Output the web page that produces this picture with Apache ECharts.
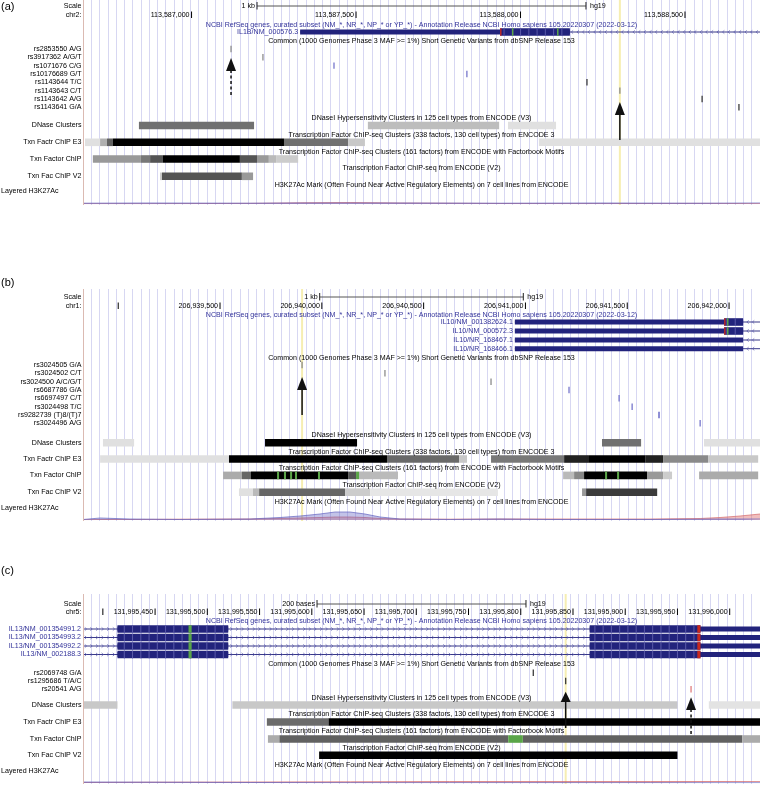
<!DOCTYPE html>
<html>
<head>
<meta charset="utf-8">
<script src="https://cdn.jsdelivr.net/npm/echarts@6/dist/echarts.min.js"></script>
<style>
  html, body { margin: 0; padding: 0; background: #fff; }
  #main { width: 760px; height: 785px; }
</style>
</head>
<body>
<div id="main"></div>
<script>
// ---------- panel (a) IL1B, chr2 ----------
var rangeA = [113586670, 113588728];
var ticksA = [113587000, 113587500, 113588000, 113588500];
var scaleA = 1000;
var genesA = [
    { name: 'IL1B/NM_000576.3', strand: '-', tx: [113587330, 113594356], exons: [[113587330, 113588150]], cds: [113587938, 113593900], mCodons: [113587974, 113588111] }
];
var snpNamesA = ['rs2853550 A/G', 'rs3917362 A/G/T', 'rs1071676 C/G', 'rs10176689 G/T', 'rs1143644 T/C', 'rs1143643 C/T', 'rs1143642 A/G', 'rs1143641 G/A'];
var snpPosA = [113587120, 113587217, 113587433, 113587837, 113588202, 113588302, 113588552, 113588664];
var snpLenA = [1, 1, 1, 1, 1, 1, 1, 1];
var snpClassA = ['other', 'other', 'utr', 'utr', 'intron', 'other', 'intron', 'intron'];
// [start, end, score]
var dnaseA = [[113586840, 113587190, 560], [113587536, 113587935, 260], [113587962, 113588108, 120]];
var e3A = [[113586676, 113586722, 120], [113586722, 113586743, 310], [113586743, 113586761, 620], [113586761, 113587281, 1000],
    [113587281, 113587476, 560], [113587476, 113587527, 215], [113588056, 113588760, 120]];
var fbA = [[113586700, 113586846, 400], [113586846, 113586874, 530], [113586874, 113586913, 670], [113586913, 113587147, 1000],
    [113587147, 113587199, 670], [113587199, 113587235, 400], [113587235, 113587257, 270], [113587257, 113587324, 200]];
var motifsA = [];
var v2A = [[113586904, 113586910, 200], [113586910, 113587153, 670], [113587153, 113587187, 400]];
var highlightA = 113588302;
var arrowsA = [113587120, 113588302];
var h3PosA = [113586670, 113586874, 113587178, 113587330, 113587482, 113587634, 113587938, 113588242, 113588546, 113588728];
var h3BlueA = [0.8, 1, 0.8, 1, 1, 1, 0.8, 1, 0.8, 1];
var h3RedA = [0.3, 0.3, 0.6, 1.2, 1.5, 1, 0.5, 0.4, 0.6, 0.4];

// ---------- panel (b) IL10, chr1 ----------
var rangeB = [206938827, 206942152];
var ticksB = [206939000, 206939500, 206940000, 206940500, 206941000, 206941500, 206942000];
var scaleB = 1000;
var genesB = [
    { name: 'IL10/NM_001382624.1', strand: '-', tx: [206940948, 206945839], exons: [[206940948, 206942069]], cds: [206941976, 206945700], mCodons: [206941990] },
    { name: 'IL10/NM_000572.3', strand: '-', tx: [206940948, 206945839], exons: [[206940948, 206942069]], cds: [206941976, 206945700], mCodons: [206941990] },
    { name: 'IL10/NR_168467.1', strand: '-', tx: [206940948, 206945839], exons: [[206940948, 206942069]], cds: null, mCodons: [] },
    { name: 'IL10/NR_168466.1', strand: '-', tx: [206940948, 206945839], exons: [[206940948, 206942069]], cds: null, mCodons: [] }
];
var snpNamesB = ['rs3024505 G/A', 'rs3024502 C/T', 'rs3024500 A/C/G/T', 'rs6687786 G/A', 'rs6697497 C/T', 'rs3024498 T/C', 'rs9282739 (T)8/(T)7', 'rs3024496 A/G'];
var snpPosB = [206939903, 206940310, 206940831, 206941214, 206941460, 206941524, 206941656, 206941858];
var snpLenB = [1, 1, 1, 1, 1, 1, 8, 1];
var snpClassB = ['other', 'other', 'other', 'utr', 'utr', 'utr', 'utr', 'utr'];
var dnaseB = [[206938925, 206939078, 120], [206939721, 206940173, 1000], [206941376, 206941568, 560], [206941877, 206942200, 120]];
var e3B = [[206938911, 206939544, 120], [206939544, 206940320, 1000], [206940320, 206940674, 590], [206940674, 206940713, 215],
    [206940831, 206941190, 530], [206941190, 206941308, 870], [206941308, 206941588, 1000], [206941588, 206941676, 870],
    [206941676, 206941897, 460], [206941897, 206942143, 215]];
var fbB = [[206939515, 206939608, 330], [206939608, 206939652, 600], [206939652, 206940129, 1000], [206940129, 206940168, 670],
    [206940183, 206940374, 270], [206941185, 206941239, 270], [206941239, 206941288, 470], [206941288, 206941597, 1000],
    [206941597, 206941676, 400], [206941676, 206941720, 200], [206941853, 206942143, 330]];
var motifsB = [[206939780, 206939790], [206939814, 206939824], [206939844, 206939854], [206939868, 206939878],
    [206939981, 206939991], [206940168, 206940183], [206941391, 206941401], [206941450, 206941460]];
var v2B = [[206939593, 206939662, 120], [206939662, 206939692, 270], [206939692, 206940114, 600], [206940114, 206940237, 200],
    [206940237, 206940865, 100], [206941278, 206941298, 400], [206941298, 206941647, 770]];
var highlightB = 206939903;
var arrowsB = [206939903];
var h3PosB = [206938827, 206938911, 206939058, 206939303, 206939647, 206939795, 206939893, 206939991, 206940065, 206940138, 206940212,
    206940286, 206940384, 206940630, 206940875, 206941121, 206941367, 206941612, 206941858, 206941956, 206942054, 206942152];
var h3BlueB = [0.5, 2, 1, 0.5, 1, 2.5, 4, 6, 8, 8, 6, 3, 1, 0.5, 1, 0.5, 0.5, 0.5, 0.8, 1, 1, 1];
var h3RedB = [0.3, 0.5, 0.5, 0.8, 1, 1.5, 2, 2.5, 3, 3, 2.5, 1.5, 1, 0.8, 1, 1, 1, 1, 1.5, 2.5, 4, 6];

// ---------- panel (c) IL13, chr5 ----------
var rangeC = [131995381, 131996029];
var ticksC = [131995400, 131995450, 131995500, 131995550, 131995600, 131995650, 131995700, 131995750,
    131995800, 131995850, 131995900, 131995950, 131996000];
var scaleC = 200;
var il13Exons = [[131995414, 131995520], [131995866, 131996802]];
var genesC = [
    { name: 'IL13/NM_001354991.2', strand: '+', tx: [131993865, 131996802], exons: il13Exons, cds: [131993900, 131995972], mCodons: [131995482] },
    { name: 'IL13/NM_001354993.2', strand: '+', tx: [131993865, 131996802], exons: il13Exons, cds: [131993900, 131995972], mCodons: [131995482] },
    { name: 'IL13/NM_001354992.2', strand: '+', tx: [131993865, 131996802], exons: il13Exons, cds: [131993900, 131995972], mCodons: [131995482] },
    { name: 'IL13/NM_002188.3', strand: '+', tx: [131993865, 131996802], exons: il13Exons, cds: [131993900, 131995972], mCodons: [131995482] }
];
var snpNamesC = ['rs2069748 G/A', 'rs1295686 T/A/C', 'rs20541 A/G'];
var snpPosC = [131995812, 131995843, 131995963];
var snpLenC = [1, 1, 1];
var snpClassC = ['intron', 'intron', 'missense'];
var dnaseC = [[131995370, 131995414, 216], [131995524, 131995950, 216], [131995980, 131996040, 110]];
var e3C = [[131995557, 131995616, 580], [131995616, 131996040, 1000]];
var fbC = [[131995558, 131995569, 330], [131995569, 131995788, 620], [131995802, 131996012, 620], [131996012, 131996040, 330]];
var motifsC = [[131995788, 131995802]];
var v2C = [[131995607, 131995950, 1000]];
var highlightC = 131995843;
var arrowsC = [131995843, 131995963];
var h3PosC = [131995381, 131995445, 131995541, 131995637, 131995732, 131995828, 131995924, 131996029];
var h3BlueC = [1, 0.8, 0.5, 0.3, 0.3, 0.3, 0.3, 0.3];
var h3RedC = [0.5, 0.8, 1, 1.2, 1.5, 1.5, 1.5, 1.5];

// ---------- layout (pixels, relative to each panel top) ----------
var layA = { top: 0, height: 205, letter: ['(a)', 7], chrom: 'chr2:', scaleText: '1 kb',
    scale: 6, chr: 15, geneTitle: 25, genes: [32], common: 41,
    snps: [49, 57.3, 65.6, 74, 82.3, 90.6, 99, 107.3],
    dnaseT: 118, dnase: 125.5, e3T: 135, e3: 142.3, fbT: 151.7, fb: 159, v2T: 168.3, v2: 176.3, h3T: 185, h3L: 191,
    arrows: [{ tip: 58, base: 71, end: 96, dashed: true }, { tip: 102, base: 115, end: 140, dashed: false }] };
var layB = { top: 289, height: 232, letter: ['(b)', 283], chrom: 'chr1:', scaleText: '1 kb',
    scale: 8, chr: 17, geneTitle: 26, genes: [33, 42, 51, 59.7], common: 68.7,
    snps: [76, 84.3, 92.7, 101, 109.3, 117.7, 126, 134.3],
    dnaseT: 146, dnase: 153.7, e3T: 162.7, e3: 170, fbT: 178.7, fb: 186.4, v2T: 196, v2: 203.2, h3T: 212.7, h3L: 219,
    arrows: [{ tip: 88, base: 101, end: 126, dashed: false }] };
var layC = { top: 594, height: 190, letter: ['(c)', 571], chrom: 'chr5:', scaleText: '200 bases',
    scale: 10, chr: 18, geneTitle: 26.7, genes: [35, 43.5, 52, 60.5], common: 70,
    snps: [78.7, 87, 95.3],
    dnaseT: 103.7, dnase: 111, e3T: 120, e3: 128, fbT: 137, fb: 145, v2T: 154, v2: 161.3, h3T: 171, h3L: 177,
    arrows: [{ tip: 97.7, base: 108, end: 134, dashed: false }, { tip: 103.3, base: 116, end: 141, dashed: true }] };

var panels = [
    { range: rangeA, ticks: ticksA, scale: scaleA, genes: genesA, snpNames: snpNamesA, snpPos: snpPosA, snpLen: snpLenA, snpClass: snpClassA,
      tracks: { dnase: dnaseA, e3: e3A, fb: fbA, v2: v2A }, motifs: motifsA, highlight: highlightA, arrows: arrowsA,
      h3: { pos: h3PosA, blue: h3BlueA, red: h3RedA }, lay: layA },
    { range: rangeB, ticks: ticksB, scale: scaleB, genes: genesB, snpNames: snpNamesB, snpPos: snpPosB, snpLen: snpLenB, snpClass: snpClassB,
      tracks: { dnase: dnaseB, e3: e3B, fb: fbB, v2: v2B }, motifs: motifsB, highlight: highlightB, arrows: arrowsB,
      h3: { pos: h3PosB, blue: h3BlueB, red: h3RedB }, lay: layB },
    { range: rangeC, ticks: ticksC, scale: scaleC, genes: genesC, snpNames: snpNamesC, snpPos: snpPosC, snpLen: snpLenC, snpClass: snpClassC,
      tracks: { dnase: dnaseC, e3: e3C, fb: fbC, v2: v2C }, motifs: motifsC, highlight: highlightC, arrows: arrowsC,
      h3: { pos: h3PosC, blue: h3BlueC, red: h3RedC }, lay: layC }
];

var TITLES = {
    geneTitle: 'NCBI RefSeq genes, curated subset (NM_*, NR_*, NP_* or YP_*) - Annotation Release NCBI Homo sapiens 105.20220307 (2022-03-12)',
    common: 'Common (1000 Genomes Phase 3 MAF >= 1%) Short Genetic Variants from dbSNP Release 153',
    dnaseT: 'DNaseI Hypersensitivity Clusters in 125 cell types from ENCODE (V3)',
    e3T: 'Transcription Factor ChIP-seq Clusters (338 factors, 130 cell types) from ENCODE 3',
    fbT: 'Transcription Factor ChIP-seq Clusters (161 factors) from ENCODE with Factorbook Motifs',
    v2T: 'Transcription Factor ChIP-seq from ENCODE (V2)',
    h3T: 'H3K27Ac Mark (Often Found Near Active Regulatory Elements) on 7 cell lines from ENCODE'
};
var TRACK_NAMES = { dnase: 'DNase Clusters', e3: 'Txn Factr ChIP E3', fb: 'Txn Factor ChIP', v2: 'Txn Fac ChIP V2' };

// ---------- styles ----------
var FONT = '7.1px "Liberation Sans", Arial, sans-serif';
var W_LEFT = 83, W_DATA = 677, GUIDE_N = 82;
var NAVY = '#22237c', NAVY_TXT = '#33339a', STRIPE = '#5a5aa8', GUIDE = '#d7d7f2', CHEV = '#5656aa';
var MOTIF = '#5aa548', STOP = '#c8281e', HILITE = '#f6eeb2';
var SNP_COLORS = { other: '#8c8c8c', intron: '#3c3c3c', utr: '#7676cc', missense: '#e07c7c' };
var BAR_H = 7.6, UTR_H = 5, CDS_H = 7.6;

var mctx = document.createElement('canvas').getContext('2d');
mctx.font = FONT;
function textW(t) { return mctx.measureText(t).width; }
function fmt(n) { return String(n).replace(/\B(?=(\d{3})+(?!\d))/g, ','); }
function grayOf(score) {
    var g = Math.round(255 * (1 - score / 1000));
    return 'rgb(' + g + ',' + g + ',' + g + ')';
}
function clampRect(x1, x2, y, h, cs) {
    var a = Math.max(x1, cs.x), b = Math.min(x2, cs.x + cs.width);
    if (b <= a) return null;
    return { x: a, y: y - h / 2, width: b - a, height: h };
}
function seg(x1, y1, x2, y2, color, w, dash) {
    return { type: 'line', shape: { x1: x1, y1: y1, x2: x2, y2: y2 }, style: { stroke: color, lineWidth: w, lineDash: dash || null } };
}
function txt(x, y, s, align, color, font) {
    return { type: 'text', x: x, y: y, z2: 10,
        style: { text: s, font: font || FONT, fill: color || '#000', align: align, textAlign: align, verticalAlign: 'middle', textVerticalAlign: 'middle' } };
}

// ---------- render functions ----------
function segmentRender(params, api) {
    var cs = params.coordSys;
    var s = api.coord([api.value(0), 0])[0];
    var e = api.coord([api.value(1), 0])[0];
    var y = api.coord([api.value(0), api.value(3)])[1];
    var r = clampRect(s, Math.max(e, s + 1), y, BAR_H, cs);
    if (!r) return;
    return { type: 'rect', shape: r, style: { fill: api.value(4) ? MOTIF : grayOf(api.value(2)) } };
}

function snpRender(P) {
    return function (params, api) {
        var i = params.dataIndex;
        var p = api.coord([api.value(0), P.lay.snps[i]]);
        var w = Math.max(1.3, api.coord([api.value(0) + P.snpLen[i], 0])[0] - p[0]);
        return { type: 'rect', shape: { x: p[0] - w / 2, y: p[1] - 3.2, width: w, height: 6.4 },
            style: { fill: SNP_COLORS[P.snpClass[i]] } };
    };
}

function geneRender(P) {
    return function (params, api) {
        var g = P.genes[params.dataIndex];
        var cs = params.coordSys, L = cs.x, R = cs.x + cs.width;
        var y = api.coord([g.tx[0], P.lay.genes[params.dataIndex]])[1];
        function px(bp) { return api.coord([bp, 0])[0]; }
        var kids = [];
        var a = Math.max(px(g.tx[0]), L), b = Math.min(px(g.tx[1]), R);
        kids.push(seg(a, y, b, y, NAVY, 0.9));
        var exPx = g.exons.map(function (e) { return [px(e[0]), px(e[1])]; });
        var dir = g.strand === '-' ? -1 : 1;
        for (var x = a + 3; x < b - 2; x += 5.6) {
            var inside = exPx.some(function (e) { return x > e[0] - 2 && x < e[1] + 2; });
            if (inside) continue;
            kids.push({ type: 'polyline', shape: { points: [[x - 1.2 * dir, y - 1.6], [x + 0.6 * dir, y], [x - 1.2 * dir, y + 1.6]] },
                style: { stroke: CHEV, lineWidth: 0.7, fill: null } });
        }
        var step = cs.width / GUIDE_N;
        g.exons.forEach(function (e) {
            var r = clampRect(px(e[0]), px(e[1]), y, UTR_H, cs);
            if (r) kids.push({ type: 'rect', shape: r, style: { fill: NAVY } });
            if (g.cds) {
                var c0 = Math.max(e[0], g.cds[0]), c1 = Math.min(e[1], g.cds[1]);
                if (c1 > c0) {
                    var rc = clampRect(px(c0), px(c1), y, CDS_H, cs);
                    if (rc) {
                        kids.push({ type: 'rect', shape: rc, style: { fill: NAVY } });
                        for (var sx = L + Math.ceil((rc.x - L) / step + 0.01) * step; sx < rc.x + rc.width - 0.5; sx += step) {
                            kids.push(seg(sx, rc.y, sx, rc.y + rc.height, STRIPE, 1));
                        }
                    }
                }
            }
        });
        (g.mCodons || []).forEach(function (m) {
            var x0 = px(m), x1 = Math.max(px(m + 3), x0 + 1.5);
            var r = clampRect(x0, x1, y, CDS_H, cs);
            if (r) kids.push({ type: 'rect', shape: r, style: { fill: MOTIF } });
        });
        if (g.cds) {
            var st = g.strand === '-' ? g.cds[0] : g.cds[1] - 3;
            var sx0 = px(st), sx1 = Math.max(px(st + 3), sx0 + 1.4);
            var rs = clampRect(sx0, sx1, y, CDS_H, cs);
            if (rs) kids.push({ type: 'rect', shape: rs, style: { fill: STOP } });
        }
        kids.push(txt(Math.max(px(g.tx[0]), L) - 2, y, g.name, 'right', NAVY_TXT));
        return { type: 'group', children: kids };
    };
}

function tickRender(P) {
    return function (params, api) {
        var p = api.coord([api.value(0), P.lay.chr]);
        var s = fmt(api.value(0));
        var kids = [seg(p[0], p[1] - 3.5, p[0], p[1] + 3, '#000', 1)];
        if (p[0] - 2 - textW(s) >= params.coordSys.x) kids.push(txt(p[0] - 2, p[1], s, 'right'));
        return { type: 'group', children: kids };
    };
}

function scaleRender(P) {
    return function (params, api) {
        var a = api.coord([api.value(0), P.lay.scale]), b = api.coord([api.value(1), P.lay.scale]);
        return { type: 'group', children: [
            seg(a[0], a[1], b[0], a[1], '#555', 1),
            seg(a[0], a[1] - 4, a[0], a[1] + 3.5, '#222', 1),
            seg(b[0], a[1] - 4, b[0], a[1] + 3.5, '#222', 1),
            txt(a[0] - 2, a[1], P.lay.scaleText, 'right'),
            txt(b[0] + 4, a[1], 'hg19', 'left')
        ] };
    };
}

function arrowRender(P) {
    return function (params, api) {
        var al = P.lay.arrows[params.dataIndex];
        var x = api.coord([api.value(0), 0])[0];
        var tip = api.coord([api.value(0), al.tip])[1];
        var base = api.coord([api.value(0), al.base])[1];
        var end = api.coord([api.value(0), al.end])[1];
        return { type: 'group', children: [
            seg(x, base - 1, x, end, '#111', 1.5, al.dashed ? [3, 2.5] : null),
            { type: 'polygon', shape: { points: [[x, tip], [x - 5, base], [x + 5, base]] }, style: { fill: '#111' } }
        ] };
    };
}

function highlightRender(params, api) {
    var cs = params.coordSys;
    var x = api.coord([api.value(0), 0])[0];
    return { type: 'rect', shape: { x: x - 1, y: cs.y, width: 2, height: cs.height }, style: { fill: HILITE } };
}

// ---------- build option ----------
var option = { animation: false, grid: [], xAxis: [], yAxis: [], series: [], graphic: { elements: [] } };
var G = option.graphic.elements;

panels.forEach(function (P, pi) {
    var L = P.lay;
    var gT = option.grid.length;
    option.grid.push({ left: W_LEFT, width: W_DATA, top: L.top, height: L.height });
    option.grid.push({ left: W_LEFT, width: W_DATA, top: L.top + L.height - 11, height: 10 });
    var xG = option.xAxis.length;
    option.xAxis.push({ type: 'value', gridIndex: gT, min: P.range[0], max: P.range[1], show: false });
    option.xAxis.push({ type: 'value', gridIndex: gT, min: 0, max: GUIDE_N, interval: 1,
        axisLine: { show: false }, axisTick: { show: false }, axisLabel: { show: false },
        splitLine: { show: true, lineStyle: { color: GUIDE, width: 1 } } });
    option.xAxis.push({ type: 'value', gridIndex: gT + 1, min: P.range[0], max: P.range[1], show: false });
    var yT = option.yAxis.length;
    option.yAxis.push({ type: 'value', gridIndex: gT, min: 0, max: L.height, inverse: true, show: false });
    option.yAxis.push({ type: 'value', gridIndex: gT + 1, min: 0, max: 10, show: false });

    var base = { type: 'custom', xAxisIndex: xG, yAxisIndex: yT, silent: true };
    function custom(extra) { return Object.assign({}, base, extra); }

    option.series.push(custom({ z: 1, data: [[P.highlight, 0]], encode: { x: 0, y: 1 }, renderItem: highlightRender }));

    var segData = [];
    ['dnase', 'e3', 'fb', 'v2'].forEach(function (k) {
        P.tracks[k].forEach(function (d) { segData.push([d[0], d[1], d[2], L[k], 0]); });
    });
    P.motifs.forEach(function (d) { segData.push([d[0], d[1], 0, L.fb, 1]); });
    option.series.push(custom({ z: 2, data: segData, encode: { x: [0, 1], y: 3 }, renderItem: segmentRender }));

    option.series.push(custom({ z: 3, data: P.snpPos.map(function (p, i) { return [p, i]; }), encode: { x: 0, y: 1 }, renderItem: snpRender(P) }));
    option.series.push(custom({ z: 3, data: P.genes.map(function (g, i) { return [g.tx[0], g.tx[1], i]; }), encode: { x: [0, 1], y: 2 }, renderItem: geneRender(P) }));
    option.series.push(custom({ z: 3, data: P.ticks.map(function (t) { return [t, 0]; }), encode: { x: 0, y: 1 }, renderItem: tickRender(P) }));
    var mid = (P.range[0] + P.range[1]) / 2;
    option.series.push(custom({ z: 3, data: [[mid - P.scale / 2, mid + P.scale / 2]], encode: { x: [0, 1] }, renderItem: scaleRender(P) }));
    option.series.push(custom({ z: 5, data: P.arrows.map(function (a) { return [a, 0]; }), encode: { x: 0, y: 1 }, renderItem: arrowRender(P) }));

    option.series.push({ type: 'line', xAxisIndex: xG + 2, yAxisIndex: yT + 1, silent: true, z: 3, showSymbol: false,
        data: P.h3.pos.map(function (p, i) { return [p, P.h3.red[i]]; }),
        lineStyle: { color: '#d46a6a', width: 0.7 }, areaStyle: { color: 'rgba(220,100,100,0.6)' } });
    option.series.push({ type: 'line', xAxisIndex: xG + 2, yAxisIndex: yT + 1, silent: true, z: 4, showSymbol: false,
        data: P.h3.pos.map(function (p, i) { return [p, P.h3.blue[i]]; }),
        lineStyle: { color: '#6464c0', width: 0.7 }, areaStyle: { color: 'rgba(100,100,195,0.55)' } });

    // left border, labels, titles
    G.push({ type: 'line', z: 50, shape: { x1: W_LEFT + 0.5, y1: L.top, x2: W_LEFT + 0.5, y2: L.top + L.height }, style: { stroke: '#dbbab2', lineWidth: 1 } });
    G.push(Object.assign(txt(1, L.letter[1], L.letter[0], 'left', '#000', '11px "Liberation Sans", Arial, sans-serif'), { z: 50 }));
    G.push(Object.assign(txt(81.5, L.top + L.scale, 'Scale', 'right'), { z: 50 }));
    G.push(Object.assign(txt(81.5, L.top + L.chr, L.chrom, 'right'), { z: 50 }));
    P.snpNames.forEach(function (n, i) { G.push(Object.assign(txt(81.5, L.top + L.snps[i], n, 'right'), { z: 50 })); });
    ['dnase', 'e3', 'fb', 'v2'].forEach(function (k) { G.push(Object.assign(txt(81.5, L.top + L[k], TRACK_NAMES[k], 'right'), { z: 50 })); });
    G.push(Object.assign(txt(1, L.top + L.h3L, 'Layered H3K27Ac', 'left'), { z: 50 }));
    Object.keys(TITLES).forEach(function (k) {
        G.push(Object.assign(txt(W_LEFT + W_DATA / 2, L.top + L[k], TITLES[k], 'center', k === 'geneTitle' ? NAVY_TXT : '#000'), { z: 50 }));
    });
});

var chart = echarts.init(document.getElementById('main'));
chart.setOption(option);
</script>
</body>
</html>
